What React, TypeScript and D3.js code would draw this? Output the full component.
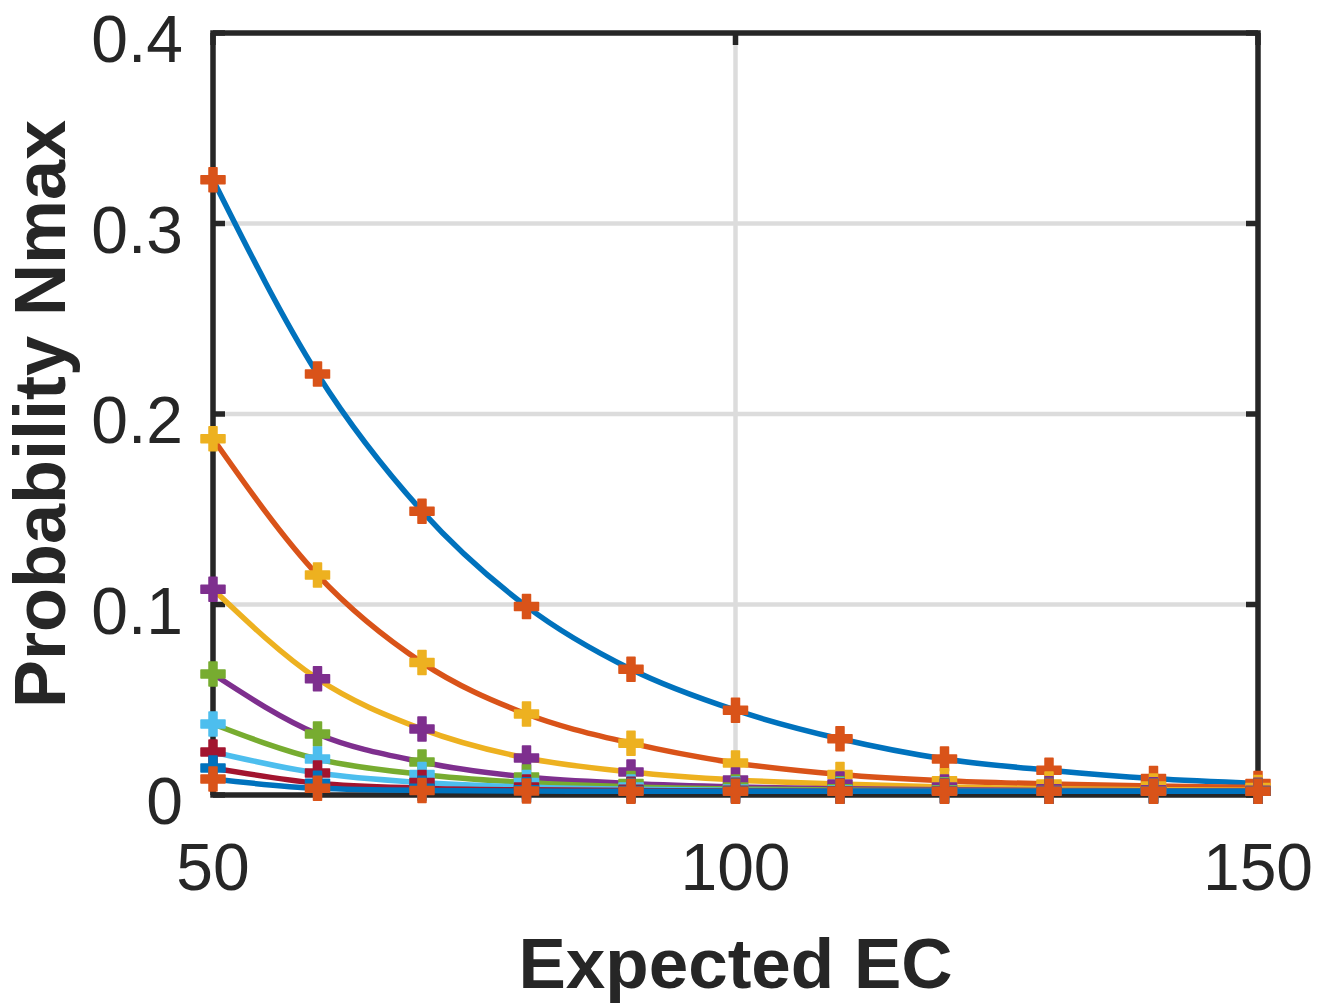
import React from "react";
import * as d3 from "d3";

const xValues = [50, 60, 70, 80, 90, 100, 110, 120, 130, 140, 150];

const series1 = [0.323, 0.221, 0.149, 0.099, 0.066, 0.0445, 0.0295, 0.0189, 0.013, 0.0086, 0.006];
const series2 = [0.187, 0.1155, 0.0695, 0.0425, 0.0272, 0.0168, 0.0108, 0.0075, 0.0058, 0.0047, 0.004];
const series3 = [0.108, 0.061, 0.0346, 0.0194, 0.0121, 0.0079, 0.0058, 0.0042, 0.0033, 0.0028, 0.0025];
const series4 = [0.0635, 0.032, 0.0173, 0.0094, 0.006, 0.0042, 0.0033, 0.0027, 0.0024, 0.0022, 0.0021];
const series5 = [0.0373, 0.0189, 0.0108, 0.0065, 0.0042, 0.0031, 0.0026, 0.0023, 0.0022, 0.0021, 0.002];
const series6 = [0.0226, 0.0115, 0.0065, 0.0042, 0.003, 0.0025, 0.0022, 0.0021, 0.002, 0.002, 0.002];
const series7 = [0.0142, 0.0062, 0.0036, 0.0027, 0.0023, 0.0021, 0.002, 0.002, 0.002, 0.002, 0.002];
const series8 = [0.0084, 0.0035, 0.0024, 0.0021, 0.002, 0.002, 0.002, 0.002, 0.002, 0.002, 0.002];

const allSeries = [series1, series2, series3, series4, series5, series6, series7, series8];

const colorOrder = ["#0072BD", "#D95319", "#EDB120", "#7E2F8E", "#77AC30", "#4DBEEE", "#A2142F"];

const xTicks = [50, 100, 150];
const yTicks = [0, 0.1, 0.2, 0.3, 0.4];
const yTickLabels = ["0", "0.1", "0.2", "0.3", "0.4"];

const xLabel = "Expected EC";
const yLabel = "Probability Nmax";

export default function App() {
  const W = 1338;
  const H = 1007;
  const left = 213;
  const right = 1258;
  const top = 33;
  const bottom = 795;

  const x = d3.scaleLinear().domain([50, 150]).range([left, right]);
  const y = d3.scaleLinear().domain([0, 0.4]).range([bottom, top]);

  const line = d3
    .line<number>()
    .x((_, i) => x(xValues[i]))
    .y((d) => y(d))
    .curve(d3.curveMonotoneX);

  const cross = d3.symbol().type(d3.symbolCross).size(320)();

  const axisColor = "#262626";
  const gridColor = "#dcdcdc";
  const tickLen = 12;
  const fontFam = "'Liberation Sans', Arial, Helvetica, sans-serif";

  return (
    <svg
      width={W}
      height={H}
      style={{ position: "absolute", left: 0, top: 0, background: "#fff" }}
    >
      <rect x={0} y={0} width={W} height={H} fill="#fff" />
      {/* grid */}
      {xTicks
        .filter((t) => t !== 50 && t !== 150)
        .map((t) => (
          <line key={"gx" + t} x1={x(t)} x2={x(t)} y1={top} y2={bottom} stroke={gridColor} strokeWidth={4.5} />
        ))}
      {yTicks
        .filter((t) => t !== 0 && t !== 0.4)
        .map((t) => (
          <line key={"gy" + t} x1={left} x2={right} y1={y(t)} y2={y(t)} stroke={gridColor} strokeWidth={4.5} />
        ))}
      {/* box */}
      <rect
        x={left}
        y={top}
        width={right - left}
        height={bottom - top}
        fill="none"
        stroke={axisColor}
        strokeWidth={5.5}
      />
      {/* ticks */}
      {xTicks.map((t) => (
        <g key={"tx" + t}>
          <line x1={x(t)} x2={x(t)} y1={bottom} y2={bottom - tickLen} stroke={axisColor} strokeWidth={5.5} />
          <line x1={x(t)} x2={x(t)} y1={top} y2={top + tickLen} stroke={axisColor} strokeWidth={5.5} />
        </g>
      ))}
      {yTicks.map((t) => (
        <g key={"ty" + t}>
          <line x1={left} x2={left + tickLen} y1={y(t)} y2={y(t)} stroke={axisColor} strokeWidth={5.5} />
          <line x1={right} x2={right - tickLen} y1={y(t)} y2={y(t)} stroke={axisColor} strokeWidth={5.5} />
        </g>
      ))}
      {/* lines */}
      {allSeries.map((s, i) => (
        <path
          key={"l" + i}
          d={line(s) || ""}
          fill="none"
          stroke={colorOrder[i % colorOrder.length]}
          strokeWidth={5.5}
          strokeLinejoin="round"
        />
      ))}
      {/* markers */}
      {allSeries.map((s, i) => (
        <g key={"m" + i} fill={colorOrder[(i + 1) % colorOrder.length]} stroke={colorOrder[(i + 1) % colorOrder.length]} strokeWidth={1.5} strokeLinejoin="round">
          {s.map((v, j) => (
            <path key={j} d={cross || ""} transform={`translate(${x(xValues[j])},${y(v)})`} />
          ))}
        </g>
      ))}
      {/* tick labels */}
      {xTicks.map((t) => (
        <text
          key={"xl" + t}
          x={x(t)}
          y={890}
          textAnchor="middle"
          fontFamily={fontFam}
          fontSize={66}
          fill={axisColor}
        >
          {t}
        </text>
      ))}
      {yTicks.map((t, i) => (
        <text
          key={"yl" + t}
          x={183}
          y={y(t) + 29}
          textAnchor="end"
          fontFamily={fontFam}
          fontSize={66}
          fill={axisColor}
        >
          {yTickLabels[i]}
        </text>
      ))}
      {/* axis labels */}
      <text
        x={(left + right) / 2}
        y={988}
        textAnchor="middle"
        fontFamily={fontFam}
        fontWeight="bold"
        fontSize={71}
        fill={axisColor}
      >
        {xLabel}
      </text>
      <text
        transform={`translate(65,${(top + bottom) / 2}) rotate(-90)`}
        textAnchor="middle"
        fontFamily={fontFam}
        fontWeight="bold"
        fontSize={72}
        fill={axisColor}
      >
        {yLabel}
      </text>
    </svg>
  );
}
